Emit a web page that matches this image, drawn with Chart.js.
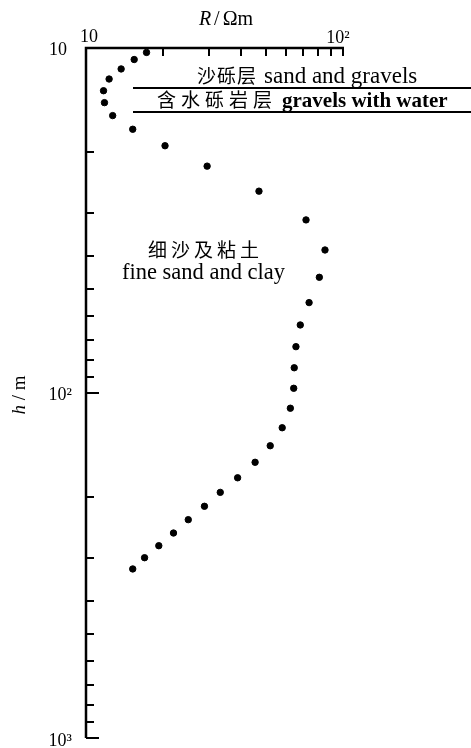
<!DOCTYPE html>
<html>
<head>
<meta charset="utf-8">
<script src="https://cdn.jsdelivr.net/npm/chart.js@4"></script>
<style>
  body { margin: 0; background: #fff; }
</style>
</head>
<body>
<canvas id="chart" width="471" height="748"></canvas>
<script>
// resistivity R (ohm m) vs depth h (m)
const resistivity = [17.2, 15.4, 13.7, 12.3, 11.7, 11.8, 12.7, 15.2, 20.3, 29.6, 47.1, 71.8,
  85.1, 80.9, 73.8, 68.2, 65.6, 64.6, 64.3, 62.4, 58.0, 52.1, 45.5, 38.9, 33.3, 28.9,
  25.0, 21.9, 19.2, 16.9, 15.2];
const depth = [10.3, 10.8, 11.5, 12.3, 13.3, 14.4, 15.7, 17.2, 19.2, 22.0, 26.0, 31.5,
  38.5, 46.2, 54.7, 63.5, 73.4, 84.5, 96.9, 110.7, 126.1, 142.2, 158.8, 176.1, 194.1, 213.0,
  232.9, 254.6, 277.1, 300.2, 323.6];

const xTicks = [10, 20, 30, 40, 50, 60, 70, 80, 90, 100];
const yTicks = [10, 20, 30, 40, 50, 60, 70, 80, 90, 100, 200, 300, 400, 500, 600, 700, 800, 900, 1000];
const layerBounds = [13.1, 15.3];
const layerNamesZh = ['沙砾层', '含水砾岩层'];
const layerNamesEn = ['sand and gravels', 'gravels with water'];
const clayName = ['细沙及粘土', 'fine sand and clay'];

const SERIF = '"Liberation Serif", "Noto Sans CJK SC", serif';
const CJK = '"Noto Sans CJK SC", serif';

const axesPlugin = {
  id: 'axes',
  afterDraw(chart) {
    const ctx = chart.ctx;
    const x = chart.scales.x, y = chart.scales.y;
    const left = x.getPixelForValue(10), right = x.getPixelForValue(100);
    const top = y.getPixelForValue(10), bottom = y.getPixelForValue(1000);
    ctx.save();
    ctx.strokeStyle = '#000';
    ctx.fillStyle = '#000';
    ctx.lineWidth = 2.5;
    ctx.beginPath();
    ctx.moveTo(right + 1, top);
    ctx.lineTo(left, top);
    ctx.lineTo(left, bottom);
    ctx.stroke();

    // ticks pointing inward
    ctx.lineWidth = 2;
    ctx.beginPath();
    xTicks.slice(1).forEach(v => {
      const px = Math.round(x.getPixelForValue(v));
      ctx.moveTo(px, top);
      ctx.lineTo(px, top + 8);
    });
    yTicks.slice(1).forEach(v => {
      const py = Math.round(y.getPixelForValue(v));
      const major = v === 100 || v === 1000;
      ctx.moveTo(left, py);
      ctx.lineTo(left + (major ? 13 : 8), py);
    });
    ctx.stroke();

    // tick labels
    ctx.font = '18px ' + SERIF;
    ctx.textBaseline = 'alphabetic';
    ctx.textAlign = 'left';
    ctx.fillText('10', left - 6, top - 6);
    ctx.textAlign = 'center';
    ctx.fillText('10²', right - 5, top - 5);
    ctx.textAlign = 'right';
    ctx.fillText('10', 67, top + 7);
    ctx.fillText('10²', 72, y.getPixelForValue(100) + 7);
    ctx.fillText('10³', 72, bottom + 8);

    // axis titles
    ctx.textAlign = 'left';
    ctx.font = 'italic 20px ' + SERIF;
    const wR = ctx.measureText('R').width;
    ctx.font = '20px ' + SERIF;
    const wS = ctx.measureText('/').width;
    const wO = ctx.measureText('Ωm').width;
    let sx = 226 - (wR + wS + wO + 6) / 2;
    ctx.font = 'italic 20px ' + SERIF;
    ctx.fillText('R', sx, 25);
    ctx.font = '20px ' + SERIF;
    ctx.fillText('/', sx + wR + 3, 25);
    ctx.fillText('Ωm', sx + wR + wS + 6, 25);

    ctx.save();
    ctx.translate(25, 395);
    ctx.rotate(-Math.PI / 2);
    ctx.font = 'italic 19px ' + SERIF;
    const wh = ctx.measureText('h').width;
    ctx.font = '19px ' + SERIF;
    const wm = ctx.measureText(' / m').width;
    ctx.font = 'italic 19px ' + SERIF;
    ctx.fillText('h', -(wh + wm) / 2, 0);
    ctx.font = '19px ' + SERIF;
    ctx.fillText(' / m', -(wh + wm) / 2 + wh, 0);
    ctx.restore();

    // layer boundaries
    ctx.lineWidth = 2;
    ctx.beginPath();
    layerBounds.forEach(d => {
      const py = Math.round(y.getPixelForValue(d));
      ctx.moveTo(133, py);
      ctx.lineTo(chart.width, py);
    });
    ctx.stroke();

    ctx.font = '19px ' + CJK;
    ctx.letterSpacing = '1px';
    ctx.fillText(layerNamesZh[0], 197, 83);
    ctx.letterSpacing = '5px';
    ctx.fillText(layerNamesZh[1], 157, 107);
    ctx.letterSpacing = '4px';
    ctx.fillText(clayName[0], 148, 257);
    ctx.letterSpacing = '0px';
    ctx.font = '23px ' + SERIF;
    ctx.fillText(layerNamesEn[0], 264, 83);
    ctx.font = 'bold 21px ' + SERIF;
    ctx.fillText(layerNamesEn[1], 282, 107);
    ctx.font = '22.5px ' + SERIF;
    ctx.fillText(clayName[1], 122, 279);
    ctx.restore();
  }
};

new Chart(document.getElementById('chart'), {
  type: 'scatter',
  data: {
    datasets: [{
      data: resistivity.map((r, i) => ({ x: r, y: depth[i] })),
      backgroundColor: '#000',
      borderColor: '#000',
      pointRadius: 3.2,
      pointHoverRadius: 3.2
    }]
  },
  options: {
    responsive: false,
    animation: false,
    layout: { padding: { left: 86, top: 48, right: 128, bottom: 10 } },
    plugins: { legend: { display: false }, tooltip: { enabled: false } },
    scales: {
      x: { type: 'logarithmic', min: 10, max: 100, display: false },
      y: { type: 'logarithmic', min: 10, max: 1000, reverse: true, display: false }
    }
  },
  plugins: [axesPlugin]
});
</script>
</body>
</html>
